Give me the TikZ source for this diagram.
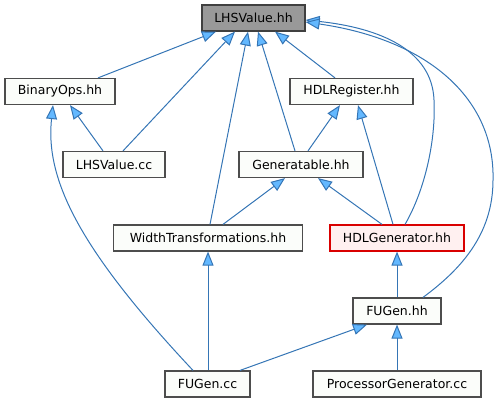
\documentclass[tikz,border=0pt]{standalone}
\usepackage{fontspec}
\setmainfont{DejaVu Sans}
\usetikzlibrary{arrows.meta}
\definecolor{edgeblue}{HTML}{3575B5}
\definecolor{tipblue}{HTML}{63B8FF}
\definecolor{boxline}{HTML}{4D4D4D}
\definecolor{boxfill}{HTML}{FBFDFA}
\definecolor{rootfill}{HTML}{999999}
\definecolor{genfill}{HTML}{FFF0F0}
\begin{document}
\begin{tikzpicture}[x=1pt, y=-1pt,
  file/.style={draw=boxline, fill=boxfill, line width=1.2pt, minimum height=26pt, inner sep=0pt,
    font=\fontsize{12.5}{14}\selectfont},
  dep/.style={draw=edgeblue, line width=1pt, -{Triangle[length=14pt, width=11pt, fill=tipblue]}}]
\useasboundingbox (0,0) rectangle (502,403);
\node[file, fill=rootfill, draw=black!75, minimum width=103pt] (lhshh) at (253.5,18){LHSValue.hh};
\node[file, minimum width=110pt] (binops) at (60,91.5){BinaryOps.hh};
\node[file, minimum width=123pt] (hdlreg) at (351.5,91.5){HDLRegister.hh};
\node[file, minimum width=102pt] (lhscc) at (114,164.5){LHSValue.cc};
\node[file, minimum width=124pt] (gentbl) at (301,164.5){Generatable.hh};
\node[file, minimum width=189pt] (widthtr) at (208,238){WidthTransformations.hh};
\node[file, fill=genfill, draw=red!85!black, minimum width=134pt] (hdlgen) at (397,238){HDLGenerator.hh};
\node[file, minimum width=88pt] (fugenhh) at (397,311){FUGen.hh};
\node[file, minimum width=85pt] (fugencc) at (207.5,384){FUGen.cc};
\node[file, minimum width=168pt] (procgen) at (397,384){ProcessorGenerator.cc};
% into LHSValue.hh
\draw[dep] ([xshift=38pt]binops.north) -- ([xshift=-37.5pt]lhshh.south);
\draw[dep] ([xshift=9pt]lhscc.north) -- ([xshift=-18.5pt]lhshh.south);
\draw[dep] ([xshift=2pt]widthtr.north) -- ([xshift=-5.5pt]lhshh.south);
\draw[dep] ([xshift=-6pt]gentbl.north) -- ([xshift=4.5pt]lhshh.south);
\draw[dep] ([xshift=-16.5pt]hdlreg.north) -- ([xshift=21.5pt]lhshh.south);
\draw[dep] ([xshift=8pt]hdlgen.north) .. controls (425,190) and (436,140) .. (434,100)
  .. controls (432,50) and (380,28) .. ([yshift=-2pt]lhshh.east);
\draw[dep] ([xshift=26pt]fugenhh.north) .. controls (460,270) and (493,235) .. (493,180)
  .. controls (495,100) and (430,40) .. ([yshift=-4pt]lhshh.east);
% into BinaryOps.hh
\draw[dep] ([xshift=-11pt]lhscc.north) -- ([xshift=10pt]binops.south);
\draw[dep] ([xshift=-14.5pt]fugencc.north) .. controls (80,250) and (45,180) .. ([xshift=-7pt]binops.south);
% into HDLRegister.hh
\draw[dep] ([xshift=7pt]gentbl.north) -- ([xshift=-11.5pt]hdlreg.south);
\draw[dep] ([xshift=-4pt]hdlgen.north) -- ([xshift=6.5pt]hdlreg.south);
% into Generatable.hh
\draw[dep] ([xshift=15pt]widthtr.north) -- ([xshift=-16pt]gentbl.south);
\draw[dep] ([xshift=-15pt]hdlgen.north) -- ([xshift=17pt]gentbl.south);
% lower part
\draw[dep] ([xshift=0.5pt]fugencc.north) -- (widthtr.south);
\draw[dep] (fugenhh.north) -- (hdlgen.south);
\draw[dep] ([xshift=32.5pt]fugencc.north) -- ([xshift=-30pt]fugenhh.south);
\draw[dep] (procgen.north) -- (fugenhh.south);
\end{tikzpicture}
\end{document}
